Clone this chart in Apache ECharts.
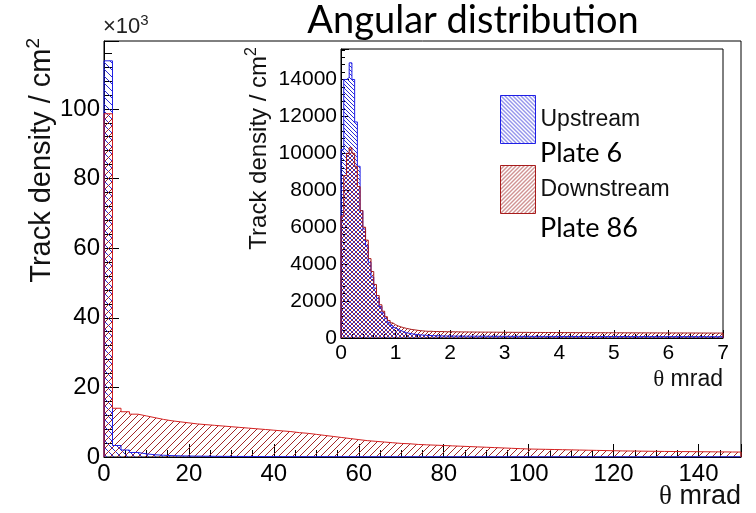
<!DOCTYPE html>
<html>
<head>
<meta charset="utf-8">
<title>Angular distribution</title>
<script src="https://cdn.jsdelivr.net/npm/echarts@6.0.0/dist/echarts.min.js"></script>
<style>
    html, body { margin: 0; padding: 0; background: #fff; }
    #chart { width: 756px; height: 513px; }
</style>
</head>
<body>
<div id="chart"></div>
<script>
// main histogram: 2 mrad bins, values in units of 10^3 tracks / cm2
var mainBinWidth = 2;
var mainUpstream = [
    113.8, 3.3, 2.0, 1.3, 0.9, 0.65, 0.5, 0.4, 0.33, 0.28,
    0.25, 0.22, 0.2, 0.18, 0.17, 0.16, 0.15, 0.14, 0.13, 0.12,
    0.12, 0.11, 0.11, 0.1, 0.1, 0.1, 0.09, 0.09, 0.09, 0.08,
    0.08, 0.08, 0.08, 0.07, 0.07, 0.07, 0.07, 0.07, 0.07, 0.06,
    0.06, 0.06, 0.06, 0.06, 0.06, 0.06, 0.06, 0.06, 0.05, 0.05,
    0.05, 0.05, 0.05, 0.05, 0.05, 0.05, 0.05, 0.05, 0.05, 0.05,
    0.05, 0.05, 0.05, 0.05, 0.05, 0.05, 0.05, 0.05, 0.05, 0.05,
    0.05, 0.05, 0.05, 0.05, 0.05
];
var mainDownstream = [
    98.6, 14.0, 13.0, 12.3, 11.8, 11.3, 10.8, 10.4, 10.1, 9.8,
    9.5, 9.3, 9.1, 8.9, 8.7, 8.5, 8.3, 8.1, 7.9, 7.7,
    7.5, 7.3, 7.0, 6.8, 6.5, 6.2, 5.9, 5.6, 5.3, 5.0,
    4.7, 4.5, 4.3, 4.1, 3.9, 3.8, 3.6, 3.5, 3.4, 3.3,
    3.2, 3.1, 3.0, 2.9, 2.8, 2.7, 2.6, 2.5, 2.4, 2.3,
    2.25, 2.2, 2.15, 2.1, 2.05, 2.0, 1.95, 1.9, 1.85, 1.8,
    1.75, 1.72, 1.69, 1.66, 1.63, 1.6, 1.58, 1.56, 1.54, 1.52,
    1.5, 1.48, 1.46, 1.44, 1.42
];

// inset: 0.05 mrad bins, tracks / cm2
var insetBinWidth = 0.05;
var insetUpstream = [
    10200, 14000, 14100, 14900, 14000, 11700, 9300, 6900, 5900, 5000,
    4100, 3300, 2700, 2150, 1700, 1350, 1050, 850, 680, 560,
    470, 400, 340, 290, 255, 228, 205, 186, 171, 158,
    148, 140, 133, 127, 122, 118, 115, 112, 110, 108,
    106, 105, 103, 102, 101, 100, 99, 98, 98, 97,
    96, 96, 95, 94, 94, 93, 93, 92, 92, 91,
    91, 90, 90, 90, 89, 89, 88, 88, 88, 87,
    87, 87, 86, 86, 86, 85, 85, 85, 84, 84,
    84, 84, 83, 83, 83, 83, 82, 82, 82, 82,
    81, 81, 81, 81, 80, 80, 80, 80, 80, 79,
    79, 79, 79, 79, 78, 78, 78, 78, 78, 77,
    77, 77, 77, 77, 77, 76, 76, 76, 76, 76,
    76, 75, 75, 75, 75, 75, 75, 74, 74, 74,
    74, 74, 74, 73, 73, 73, 73, 73, 73, 72
];
var insetDownstream = [
    6600, 8800, 10000, 10300, 10000, 9300, 8200, 6900, 6000, 5300,
    4300, 3600, 2900, 2300, 1800, 1450, 1150, 950, 820, 720,
    650, 600, 560, 520, 490, 460, 440, 420, 400, 385,
    372, 361, 366, 354, 350, 347, 349, 342, 340, 337,
    336, 333, 334, 329, 328, 330, 324, 325, 321, 322,
    319, 318, 316, 318, 314, 313, 314, 311, 310, 311,
    308, 309, 306, 305, 307, 304, 303, 304, 301, 302,
    300, 299, 301, 298, 298, 296, 297, 295, 296, 294,
    294, 292, 293, 291, 292, 290, 290, 289, 290, 288,
    288, 287, 286, 287, 285, 286, 284, 285, 283, 284,
    282, 283, 281, 282, 280, 281, 280, 279, 280, 278,
    279, 277, 278, 276, 277, 276, 275, 276, 274, 275,
    274, 273, 274, 272, 273, 272, 271, 272, 270, 271,
    270, 269, 270, 268, 269, 268, 267, 268, 266, 267
];

var blueLine = "#1f1fe6";
var blueHatch = "#2a2ad6";
var redLine = "#d42020";
var redHatch = "#a02828";
var insetRedLine = "#a81c1c";
var font = "Liberation Sans";

// diagonal hatch tile, dir 1 = "/", dir -1 = "\"
function hatch(color, size, dir) {
    var c = document.createElement("canvas");
    c.width = size;
    c.height = size;
    var g = c.getContext("2d");
    g.strokeStyle = color;
    g.lineWidth = 1;
    g.beginPath();
    for (var k = -1; k <= 1; k++) {
        if (dir > 0) {
            g.moveTo(k * size - 1, size + 1);
            g.lineTo(k * size + size + 1, -1);
        } else {
            g.moveTo(k * size - 1, -1);
            g.lineTo(k * size + size + 1, size + 1);
        }
    }
    g.stroke();
    return { image: c, repeat: "repeat" };
}

// histogram outline as step line from bin values
function stepPoints(values, width) {
    var pts = [[0, 0]];
    for (var i = 0; i < values.length; i++) {
        pts.push([i * width, values[i]]);
    }
    pts.push([values.length * width, values[values.length - 1]]);
    pts.push([values.length * width, 0]);
    return pts;
}

function histSeries(name, values, width, idx, line, fill) {
    return {
        name: name,
        type: "line",
        step: "end",
        xAxisIndex: idx,
        yAxisIndex: idx,
        data: stepPoints(values, width),
        showSymbol: false,
        lineStyle: { color: line, width: 1 },
        itemStyle: { color: line },
        areaStyle: { color: fill, opacity: 1 },
        silent: true,
    };
}

function axisPair(idx, xmax, xint, xminor, ymax, yint, yminor, fs, tick) {
    var black = { color: "#000", width: 1 };
    var x = {
        gridIndex: idx,
        type: "value",
        min: 0,
        max: xmax,
        interval: xint,
        axisLine: { show: true, onZero: false, lineStyle: black },
        axisTick: { show: true, inside: true, length: tick[0], lineStyle: black },
        minorTick: { show: true, splitNumber: xminor, length: tick[1], lineStyle: black },
        splitLine: { show: false },
        axisLabel: {
            fontSize: fs, color: "#000", fontFamily: font, margin: 5,
            formatter: function(v) { return v % xint === 0 ? String(v) : ""; },
        },
    };
    var y = {
        gridIndex: idx,
        type: "value",
        min: 0,
        max: ymax,
        interval: yint,
        axisLine: { show: true, onZero: false, lineStyle: black },
        axisTick: { show: true, inside: true, length: tick[2], lineStyle: black },
        minorTick: { show: true, splitNumber: yminor, length: tick[3], lineStyle: black },
        splitLine: { show: false },
        axisLabel: {
            fontSize: fs, color: "#000", fontFamily: font, margin: 4,
            formatter: function(v) { return v % yint === 0 ? String(v) : ""; },
        },
    };
    return [x, y];
}

function createChart(div) {
    var chart = echarts.init(document.getElementById(div), null, { renderer: "canvas" });
    var mainAxes = axisPair(0, 150, 20, 4, 119.5, 20, 5, 24, [13, 7, 15, 8]);
    var insetAxes = axisPair(1, 7, 1, 5, 15650, 2000, 5, 21, [8, 4, 8, 4]);

    var option = {
        animation: false,
        backgroundColor: "#fff",
        grid: [
            { left: 104, top: 41, width: 637, height: 416, show: true, borderColor: "#000", borderWidth: 1, backgroundColor: "#fff", containLabel: false, outerBoundsMode: "none" },
            { left: 341, top: 49, width: 382, height: 289, show: true, borderColor: "#000", borderWidth: 1, backgroundColor: "#fff", containLabel: false, outerBoundsMode: "none" },
        ],
        xAxis: [mainAxes[0], insetAxes[0]],
        yAxis: [mainAxes[1], insetAxes[1]],
        legend: {
            orient: "vertical",
            left: 495,
            top: 90,
            itemWidth: 35,
            itemHeight: 48,
            itemGap: 21,
            selectedMode: false,
            textStyle: { fontSize: 23, color: "#111", fontFamily: font },
            data: [
                { name: "Upstream", icon: "rect", itemStyle: { color: hatch(blueHatch, 4, -1), borderColor: blueLine, borderWidth: 1 } },
                { name: "Downstream", icon: "rect", itemStyle: { color: hatch(redHatch, 4, 1), borderColor: insetRedLine, borderWidth: 1 } },
            ],
        },
        series: [
            histSeries("Upstream main", mainUpstream, mainBinWidth, 0, blueLine, hatch(blueHatch, 7, -1)),
            histSeries("Downstream main", mainDownstream, mainBinWidth, 0, redLine, hatch(redHatch, 7, 1)),
            histSeries("Upstream", insetUpstream, insetBinWidth, 1, blueLine, hatch(blueHatch, 4, -1)),
            histSeries("Downstream", insetDownstream, insetBinWidth, 1, insetRedLine, hatch(redHatch, 4, 1)),
        ],
        graphic: [
            {
                type: "text", x: 473, y: 21,
                style: { text: "Angular distribution", font: "38px Lato", fill: "#000", align: "center", verticalAlign: "middle" },
            },
            {
                type: "text", x: 103, y: 27,
                style: {
                    text: "×10{s|3}", fill: "#222", align: "left", verticalAlign: "middle",
                    fontSize: 22, fontFamily: font,
                    rich: { s: { fontSize: 15, fontFamily: font, padding: [0, 0, 13, 0] } },
                },
            },
            {
                type: "text", x: 42, y: 38, rotation: Math.PI / 2,
                style: {
                    text: "Track density / cm{s|2}", fill: "#111", align: "right", verticalAlign: "middle",
                    fontSize: 29, fontFamily: font,
                    rich: { s: { fontSize: 19, fontFamily: font, padding: [0, 0, 17, 0] } },
                },
            },
            {
                type: "text", x: 741, y: 497,
                style: {
                    text: "{t|θ} mrad", fill: "#111", align: "right", verticalAlign: "middle",
                    fontSize: 27, fontFamily: font,
                    rich: { t: { fontSize: 27, fontFamily: "Liberation Serif" } },
                },
            },
            {
                type: "text", x: 259, y: 47, rotation: Math.PI / 2,
                style: {
                    text: "Track density / cm{s|2}", fill: "#111", align: "right", verticalAlign: "middle",
                    fontSize: 24, fontFamily: font,
                    rich: { s: { fontSize: 16, fontFamily: font, padding: [0, 0, 14, 0] } },
                },
            },
            {
                type: "text", x: 723, y: 380,
                style: {
                    text: "{t|θ} mrad", fill: "#111", align: "right", verticalAlign: "middle",
                    fontSize: 23, fontFamily: font,
                    rich: { t: { fontSize: 23, fontFamily: "Liberation Serif" } },
                },
            },
            {
                type: "text", x: 540, y: 153,
                style: { text: "Plate 6", font: "27px Lato", fill: "#000", align: "left", verticalAlign: "middle" },
            },
            {
                type: "text", x: 540, y: 228,
                style: { text: "Plate 86", font: "27px Lato", fill: "#000", align: "left", verticalAlign: "middle" },
            },
        ],
    };
    chart.setOption(option);
    return chart;
}

var myChart = createChart("chart");
</script>
</body>
</html>
